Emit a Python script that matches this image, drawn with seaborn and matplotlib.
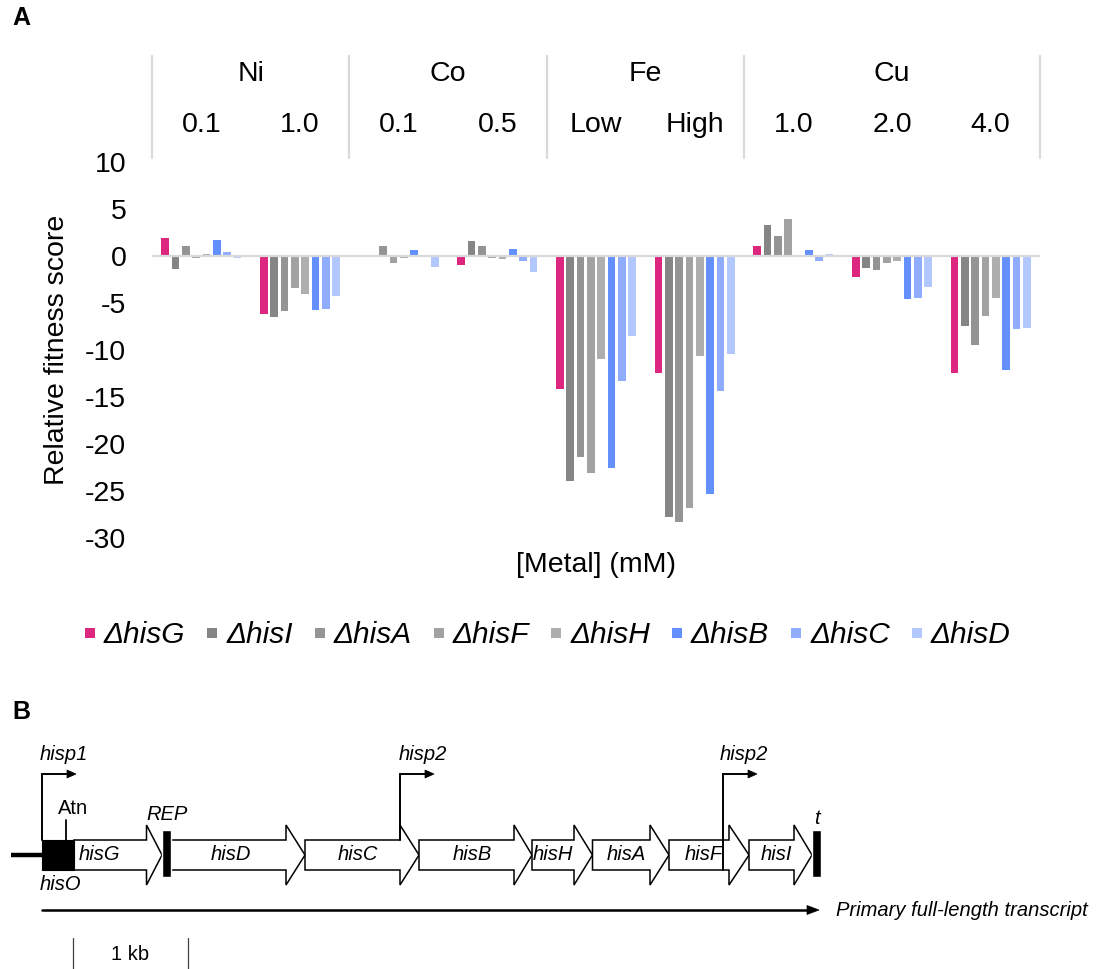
import numpy as np
import pandas as pd
import matplotlib
matplotlib.use("Agg")
import matplotlib.pyplot as plt
from matplotlib.patches import Polygon, Rectangle
from matplotlib.lines import Line2D
import seaborn as sns

# ---------------- data ----------------
metals = ["Ni", "Co", "Fe", "Cu"]
metal_conditions = {"Ni": ["0.1", "1.0"], "Co": ["0.1", "0.5"],
                    "Fe": ["Low", "High"], "Cu": ["1.0", "2.0", "4.0"]}
condition_ids = ["Ni 0.1", "Ni 1.0", "Co 0.1", "Co 0.5", "Fe Low", "Fe High",
                 "Cu 1.0", "Cu 2.0", "Cu 4.0"]
condition_labels = ["0.1", "1.0", "0.1", "0.5", "Low", "High", "1.0", "2.0", "4.0"]

mutants = ["ΔhisG", "ΔhisI", "ΔhisA", "ΔhisF", "ΔhisH", "ΔhisB", "ΔhisC", "ΔhisD"]
colors = ["#DC267F", "#858585", "#949494", "#A2A2A2", "#AEAEAE",
          "#648FFF", "#8FACFF", "#B3C7FF"]

hisG = [2.0, -6.2, 0.0, -0.95, -14.2, -12.4, 1.1, -2.2, -12.4]
hisI = [-1.35, -6.5, 0.0, 1.65, -24.0, -27.8, 3.3, -1.3, -7.4]
hisA = [1.1, -5.8, 1.1, 1.1, -21.4, -28.3, 2.2, -1.5, -9.5]
hisF = [-0.2, -3.4, -0.7, -0.2, -23.1, -26.8, 4.0, -0.7, -6.4]
hisH = [0.2, -4.0, -0.15, -0.3, -11.0, -10.6, 0.05, -0.55, -4.4]
hisB = [1.7, -5.7, 0.7, 0.8, -22.6, -25.4, 0.7, -4.6, -12.1]
hisC = [0.45, -5.6, 0.0, -0.55, -13.3, -14.4, -0.55, -4.5, -7.8]
hisD = [-0.2, -4.2, -1.1, -1.7, -8.5, -10.4, 0.25, -3.3, -7.7]
series = [hisG, hisI, hisA, hisF, hisH, hisB, hisC, hisD]

# operon schematic (panel B)
genes = ["hisG", "hisD", "hisC", "hisB", "hisH", "hisA", "hisF", "hisI"]
gene_start = [74, 171, 305, 419, 532, 592.5, 669, 749]
gene_headbase = [146.5, 286, 400, 514, 574, 650, 729, 794]
gene_tip = [162, 305, 419, 532, 592.5, 669, 749, 812]
gene_label_x = [99, 231, 358, 472, 553, 626, 704, 776]
promoters = ["hisp1", "hisp2", "hisp2"]
promoter_x = [42, 400, 723]
promoter_base = [840, 840, 870]
promoter_label_x = [40, 423, 744]

# ---------------- style ----------------
sns.set_style("white")
plt.rcParams["font.family"] = ["Liberation Sans", "DejaVu Sans"]
plt.rcParams["axes.unicode_minus"] = False
for k in ["text.color", "axes.labelcolor", "xtick.color", "ytick.color"]:
    plt.rcParams[k] = "black"
FS = 20.5

W, H = 1102, 969
fig = plt.figure(figsize=(W / 100, H / 100), dpi=100)

def fx(px):
    return px / W

def fy(py):
    return 1 - py / H

ax_top, ax_bot = 162.5, 537.5
ax = fig.add_axes([fx(152), fy(ax_bot), fx(1040) - fx(152), (ax_bot - ax_top) / H])

rows = []
for m, vals in zip(mutants, series):
    for c, v in zip(condition_ids, vals):
        rows.append({"condition": c, "mutant": m, "score": v})
df = pd.DataFrame(rows)

sns.barplot(data=df, x="condition", y="score", hue="mutant", order=condition_ids,
            hue_order=mutants, palette=colors, width=0.835, gap=0.25,
            saturation=1, linewidth=0, legend=False, ax=ax, zorder=2)

ax.set_xlim(-0.5, len(condition_ids) - 0.5)
ax.set_ylim(-30, 10)
ax.set_yticks(np.arange(-30, 11, 5))
ax.tick_params(axis="y", labelsize=FS, length=0, pad=18.5)
ax.tick_params(axis="x", length=0, labelbottom=False)
for s in ax.spines.values():
    s.set_visible(False)
ax.axhline(0, color="#D9D9D9", lw=1.6, zorder=3)
ax.set_ylabel("Relative fitness score", fontsize=FS)
ax.yaxis.set_label_coords(-0.0923, 0.5)
ax.set_xlabel("[Metal] (mM)", fontsize=FS)
ax.xaxis.label.set_va("center")
ax.xaxis.set_label_coords(0.5, -0.072)

# header table
trans = ax.get_xaxis_transform()
bounds = [-0.5]
pos = 0
for m in metals:
    n = len(metal_conditions[m])
    ax.text(pos + (n - 1) / 2, 1.235, m, transform=trans, ha="center", va="center",
            fontsize=FS, clip_on=False)
    pos += n
    bounds.append(pos - 0.5)
for i, lab in enumerate(condition_labels):
    ax.text(i, 1.101, lab, transform=trans, ha="center", va="center",
            fontsize=FS, clip_on=False)
for b in bounds:
    ax.plot([b, b], [1.013, 1.283], transform=trans, color="#D9D9D9", lw=1.6,
            clip_on=False)

# legend
handles = [Line2D([0], [0], marker="s", linestyle="none", markersize=7,
                  markerfacecolor=c, markeredgewidth=0) for c in colors]
fig.legend(handles, mutants, loc="center", bbox_to_anchor=(0.497, fy(635)),
           ncol=8, frameon=False, prop={"style": "italic", "size": 21.5},
           handlelength=0.35, handletextpad=0.3, columnspacing=0.72)

fig.text(fx(21), fy(18), "A", fontsize=18, fontweight="bold", ha="center", va="center")
fig.text(fx(21), fy(712), "B", fontsize=18, fontweight="bold", ha="center", va="center")

# ---------------- panel B ----------------
axB = fig.add_axes([0, 0, 1, 1])
axB.set_xlim(0, W)
axB.set_ylim(H, 0)
axB.axis("off")

FSB = 14.5
body_t, body_b, head_t, head_b, mid = 840, 870, 825, 885, 855
axB.plot([11, 42], [mid, mid], color="black", lw=3.2, solid_capstyle="butt")
for g, s, hb, t, lx in zip(genes, gene_start, gene_headbase, gene_tip, gene_label_x):
    pts = [(s, body_t), (hb, body_t), (hb, head_t), (t, mid), (hb, head_b),
           (hb, body_b), (s, body_b)]
    axB.add_patch(Polygon(pts, closed=True, facecolor="white", edgecolor="black",
                          lw=1.1, joinstyle="miter", zorder=2))
    axB.text(lx, mid, g, fontsize=FSB, style="italic", ha="center", va="center", zorder=3)

axB.add_patch(Rectangle((41.5, body_t), 32.5, body_b - body_t, facecolor="black",
                        edgecolor="black", lw=0.8, zorder=3))
axB.add_patch(Rectangle((162, 830), 9, 47, facecolor="black", zorder=4))
axB.add_patch(Rectangle((811.5, 830), 9, 47, facecolor="black", zorder=4))
axB.plot([65.5, 65.5], [820, body_t], color="black", lw=1.3, zorder=3)
axB.text(73, 809, "Atn", fontsize=FSB, ha="center", va="center")
axB.text(40, 884, "hisO", fontsize=FSB, style="italic", ha="left", va="center")
axB.text(167, 815, "REP", fontsize=FSB, style="italic", ha="center", va="center")
axB.text(817, 819, "t", fontsize=FSB, style="italic", ha="center", va="center")

ptop = 774
for name, x, yb, lx in zip(promoters, promoter_x, promoter_base, promoter_label_x):
    tip = x + 34
    axB.plot([x, x, tip - 8], [yb, ptop, ptop], color="black", lw=1.4, zorder=5,
             solid_joinstyle="miter")
    axB.add_patch(Polygon([(tip - 9, ptop - 4), (tip, ptop), (tip - 9, ptop + 4)],
                          closed=True, facecolor="black", edgecolor="black", lw=0.5,
                          zorder=5))
    ha = "left" if name == "hisp1" else "center"
    axB.text(lx, 754, name, fontsize=FSB, style="italic", ha=ha, va="center")

ty = 910
axB.plot([42, 808], [ty, ty], color="black", lw=1.8)
axB.add_patch(Polygon([(807, ty - 4.5), (819, ty), (807, ty + 4.5)], closed=True,
                      facecolor="black", edgecolor="black", lw=0.5))
axB.text(836, ty, "Primary full-length transcript", fontsize=FSB, style="italic",
         ha="left", va="center")

axB.plot([73, 73], [938, 969], color="#404040", lw=0.9)
axB.plot([188, 188], [938, 969], color="#404040", lw=0.9)
axB.text(130, 955, "1 kb", fontsize=FSB, ha="center", va="center")

fig.savefig("out.png", dpi=100)
